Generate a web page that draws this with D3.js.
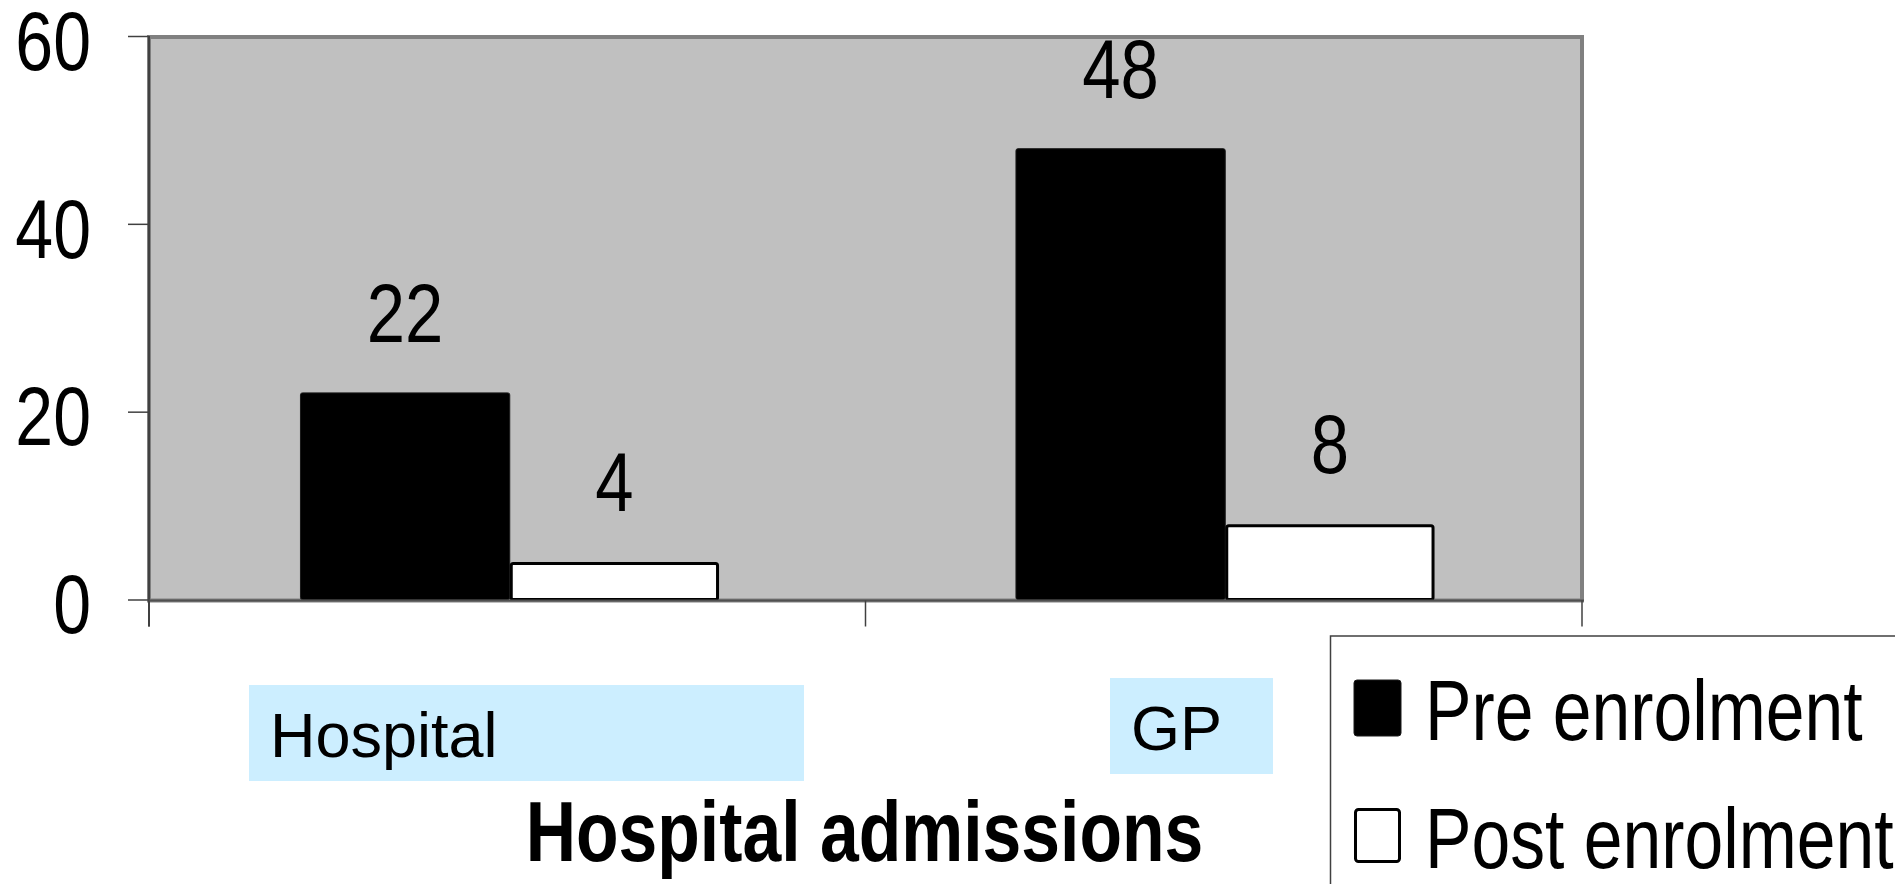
<!DOCTYPE html>
<html>
<head>
<meta charset="utf-8">
<script src="https://cdn.jsdelivr.net/npm/d3@7/dist/d3.min.js"></script>
<style>
  html, body { margin: 0; padding: 0; background: #ffffff; overflow: hidden; }
  svg { display: block; }
  text { font-family: "Liberation Sans", Arial, sans-serif; }
</style>
</head>
<body>
<svg id="chart" width="1895" height="884"></svg>
<script>
// ---- data ----
const categories = ["Hospital", "GP"];
const seriesNames = ["Pre enrolment", "Post enrolment"];
const preValues = [22, 48];
const postValues = [4, 8];
const yTickValues = [0, 20, 40, 60];
const xAxisTitle = "Hospital admissions";

// ---- layout ----
const W = 1895, H = 884;
const plot = { left: 149, right: 1582, top: 37, bottom: 600.5 };
const NARROW = 0.82; // horizontal condensing for the narrow typeface look
const seriesFill = ["#000000", "#ffffff"];
const seriesStroke = ["#1a1a1a", "#000000"];
const seriesStrokeWidth = [1, 3];
// highlighted category label boxes (left, top, width, height)
const labelBoxes = [
  { x: 249, y: 685, w: 555, h: 96 },
  { x: 1110, y: 678, w: 163, h: 96 }
];

const svg = d3.select("#chart");

// place a condensed text at (x, y)
function narrowAt(sel, fx, fy) {
  return sel
    .attr("x", 0)
    .attr("y", 0)
    .attr("transform", (d, i) => `translate(${fx(d, i)},${fy(d, i)}) scale(${NARROW},1)`);
}

const x0 = d3.scaleBand()
  .domain(categories)
  .range([plot.left + 3, plot.right + 1])
  .paddingInner(0.415)
  .paddingOuter(0.2075);

const x1 = d3.scaleBand()
  .domain(seriesNames)
  .range([0, x0.bandwidth()]);

const y = d3.scaleLinear()
  .domain([0, 60])
  .range([plot.bottom - 1, plot.top - 1]);

// plot area background and frame
svg.append("rect")
  .attr("x", plot.left)
  .attr("y", plot.top)
  .attr("width", plot.right - plot.left)
  .attr("height", plot.bottom - plot.top)
  .attr("fill", "#c0c0c0")
  .attr("stroke", "#808080")
  .attr("stroke-width", 4);

// bars
const rows = categories.map((c, i) => ({
  category: c,
  values: [
    { series: seriesNames[0], value: preValues[i], idx: 0 },
    { series: seriesNames[1], value: postValues[i], idx: 1 }
  ]
}));

const groups = svg.append("g").selectAll("g")
  .data(rows)
  .join("g")
  .attr("transform", d => `translate(${x0(d.category)},0)`);

groups.selectAll("rect")
  .data(d => d.values)
  .join("rect")
  .attr("x", d => x1(d.series) + (d.idx === 1 ? 1.5 : 0))
  .attr("y", d => y(d.value) + (d.idx === 1 ? 1.5 : 0))
  .attr("width", d => x1.bandwidth() - (d.idx === 1 ? 3 : 0))
  .attr("height", d => y(0) - y(d.value) - (d.idx === 1 ? 1.5 : 0))
  .attr("rx", 2)
  .attr("fill", d => seriesFill[d.idx])
  .attr("stroke", d => seriesStroke[d.idx])
  .attr("stroke-width", d => seriesStrokeWidth[d.idx]);

// value labels
groups.selectAll("text")
  .data(d => d.values)
  .join("text")
  .call(narrowAt, d => x1(d.series) + x1.bandwidth() / 2, d => y(d.value) - 51)
  .attr("text-anchor", "middle")
  .attr("font-size", 84)
  .attr("fill", "#000")
  .text(d => d.value);

// y axis
const yAxis = d3.axisLeft(y)
  .tickValues(yTickValues)
  .tickSize(21)
  .tickPadding(36)
  .tickFormat(d3.format("d"));

const gy = svg.append("g")
  .attr("transform", `translate(${plot.left},0)`)
  .call(yAxis);
gy.select(".domain")
  .attr("d", `M0,${plot.top - 1}V${plot.bottom + 26}`)
  .attr("stroke", "#404040")
  .attr("stroke-width", 2);
gy.selectAll(".tick line").attr("stroke", "#404040").attr("stroke-width", 1.5);
gy.selectAll(".tick text")
  .attr("x", 0)
  .attr("transform", `translate(-58,0) scale(${NARROW},1)`)
  .attr("font-size", 83)
  .attr("fill", "#000")
  .attr("dy", "0.4em");

// x axis: baseline and category boundary ticks
const boundaries = [plot.left, (plot.left + plot.right) / 2, plot.right];
svg.append("line")
  .attr("x1", plot.left).attr("x2", plot.right + 2)
  .attr("y1", plot.bottom).attr("y2", plot.bottom)
  .attr("stroke", "#505050").attr("stroke-width", 2);
svg.append("g").selectAll("line")
  .data(boundaries)
  .join("line")
  .attr("x1", d => d).attr("x2", d => d)
  .attr("y1", plot.bottom).attr("y2", plot.bottom + 26)
  .attr("stroke", "#404040").attr("stroke-width", 1.5);

// category labels on light blue boxes
const catG = svg.append("g").selectAll("g")
  .data(categories)
  .join("g");
catG.append("rect")
  .attr("x", (d, i) => labelBoxes[i].x)
  .attr("y", (d, i) => labelBoxes[i].y)
  .attr("width", (d, i) => labelBoxes[i].w)
  .attr("height", (d, i) => labelBoxes[i].h)
  .attr("fill", "#cceeff");
catG.append("text")
  .attr("x", (d, i) => labelBoxes[i].x + 21)
  .attr("y", (d, i) => labelBoxes[i].y + 72)
  .attr("font-size", 63)
  .attr("fill", "#000")
  .text(d => d);

// axis title
svg.append("text")
  .datum(xAxisTitle)
  .call(narrowAt, () => (plot.left + plot.right) / 2 - 1, () => 861)
  .attr("text-anchor", "middle")
  .attr("font-size", 85)
  .attr("font-weight", "bold")
  .attr("fill", "#000")
  .text(d => d);

// legend
const legend = svg.append("g");
legend.append("rect")
  .attr("x", 1330.5)
  .attr("y", 636)
  .attr("width", 700)
  .attr("height", 400)
  .attr("fill", "#ffffff")
  .attr("stroke", "#404040")
  .attr("stroke-width", 1.5);

const legendRows = legend.selectAll("g.item")
  .data(seriesNames)
  .join("g")
  .attr("class", "item")
  .attr("transform", (d, i) => `translate(1354,${680 + i * 128})`);
legendRows.append("rect")
  .attr("x", (d, i) => i === 1 ? 1.5 : 0)
  .attr("y", (d, i) => i === 1 ? 1.5 : 0)
  .attr("width", (d, i) => i === 1 ? 44 : 47)
  .attr("height", (d, i) => i === 1 ? 52 : 56)
  .attr("rx", 3)
  .attr("fill", (d, i) => seriesFill[i])
  .attr("stroke", (d, i) => seriesStroke[i])
  .attr("stroke-width", (d, i) => i === 1 ? 3 : 1);
legendRows.append("text")
  .call(narrowAt, () => 71, () => 60)
  .attr("font-size", 85)
  .attr("fill", "#000")
  .text(d => d);
</script>
</body>
</html>
